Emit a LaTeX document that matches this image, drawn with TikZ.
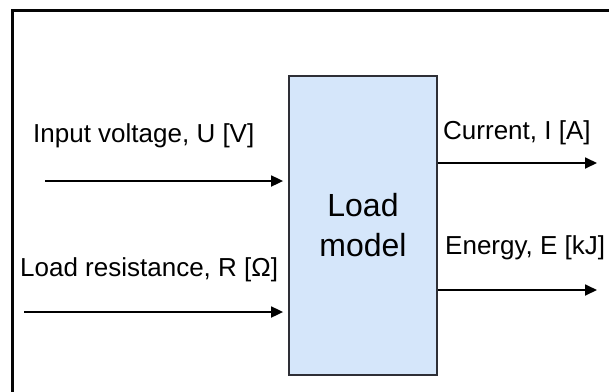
\documentclass[tikz,border=0pt]{standalone}
\usepackage{fontspec}
\setmainfont{Liberation Sans}
\usetikzlibrary{arrows.meta,positioning}
\definecolor{boxfill}{HTML}{D5E6FA}
\definecolor{boxline}{HTML}{2E2F36}
\definecolor{framec}{HTML}{050505}
\tikzset{
  ar/.style={-{Triangle[length=12pt,width=11pt]},line width=1.8pt,black},
  blockbox/.style={draw=boxline,line width=1.8pt,fill=boxfill,align=center,inner sep=0pt,
    minimum width=148pt,minimum height=299pt,font=\fontsize{32}{40}\selectfont},
  lbl/.style={anchor=base west,inner sep=0pt,font=\fontsize{26}{30}\selectfont}
}
\begin{document}
\begin{tikzpicture}[x=1pt,y=-1pt]
\useasboundingbox (0,0) rectangle (609,391);
\clip (0,0) rectangle (609,391);
\draw[framec,line width=3pt] (12,10) rectangle (640,420);
% block
\node[blockbox] (model) at (363,225.5) {Load\\model};
% inputs
\coordinate (inU) at (45,181);
\coordinate (inR) at (24,312);
\draw[ar,shorten >=5pt] (inU) -- (model.west |- inU);
\draw[ar,shorten >=5pt] (inR) -- (model.west |- inR);
\node[lbl] (lblU) at (33,142) {Input voltage, U [V]};
\node[lbl] (lblR) at (20,276) {Load resistance, R [Ω]};
% outputs
\coordinate (outI) at (597,163);
\coordinate (outE) at (597,290);
\draw[ar] (model.east |- outI) -- (outI);
\draw[ar] (model.east |- outE) -- (outE);
\node[lbl] (lblI) at (443,139) {Current, I [A]};
\node[lbl] (lblE) at (445,254) {Energy, E [kJ]};
\end{tikzpicture}
\end{document}
